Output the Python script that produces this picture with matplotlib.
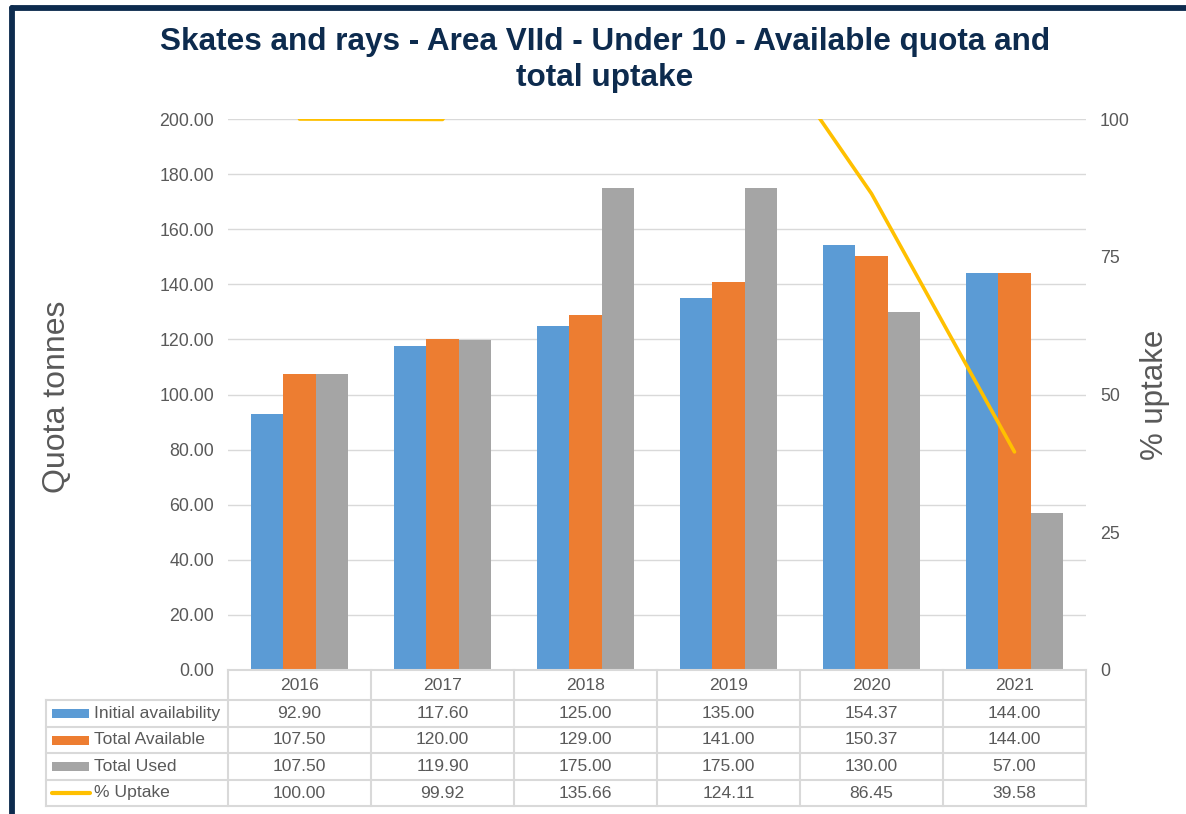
import matplotlib
matplotlib.use("Agg")
import matplotlib.pyplot as plt
import matplotlib.transforms as mtransforms
from matplotlib.lines import Line2D
from matplotlib.patches import Rectangle
import numpy as np

plt.rcParams['font.family'] = ['Liberation Sans', 'DejaVu Sans']

years = ["2016", "2017", "2018", "2019", "2020", "2021"]
initial_availability = [92.90, 117.60, 125.00, 135.00, 154.37, 144.00]
total_available = [107.50, 120.00, 129.00, 141.00, 150.37, 144.00]
total_used = [107.50, 119.90, 175.00, 175.00, 130.00, 57.00]
pct_uptake = [100.00, 99.92, 135.66, 124.11, 86.45, 39.58]

series_names = ["Initial availability", "Total Available", "Total Used", "% Uptake"]
colors = ["#5B9BD5", "#ED7D31", "#A5A5A5", "#FFC000"]
left_ticks = [0, 20, 40, 60, 80, 100, 120, 140, 160, 180, 200]
right_ticks = [0, 25, 50, 75, 100]

W, H = 1186, 814
fig = plt.figure(figsize=(W / 100, H / 100), dpi=100)
fig.patch.set_facecolor("white")

def fx(px):
    return px / W

def fy(py):
    return 1 - py / H

txt_c = "#595959"
ax_l, ax_r, ax_t, ax_b = 228, 1086, 119, 670
ax = fig.add_axes([fx(ax_l), fy(ax_b), fx(ax_r - ax_l), (ax_b - ax_t) / H])
ax2 = ax.twinx()

x = np.arange(len(years))
bw = 0.224
ax.bar(x - bw, initial_availability, bw, color=colors[0], zorder=3)
ax.bar(x, total_available, bw, color=colors[1], zorder=3)
ax.bar(x + bw, total_used, bw, color=colors[2], zorder=3)
ax.set_xlim(-0.5, len(years) - 0.5)
ax.set_ylim(0, 200)
ax.set_yticks(left_ticks)
ax.set_yticklabels([f"{v:.2f}" for v in left_ticks])
ax.grid(axis="y", color="#D9D9D9", linewidth=1.0, zorder=0)
ax.set_axisbelow(True)
ax.set_xticks([])
for s in ax.spines.values():
    s.set_visible(False)
ax.tick_params(axis="y", length=0, pad=10, labelsize=12.8, labelcolor=txt_c)

ax2.plot(x, pct_uptake, color=colors[3], linewidth=2.6, solid_capstyle="round")
ax2.set_ylim(0, 100)
ax2.set_yticks(right_ticks)
ax2.set_yticklabels([str(v) for v in right_ticks])
for s in ax2.spines.values():
    s.set_visible(False)
ax2.tick_params(axis="y", length=0, pad=10, labelsize=12.8, labelcolor=txt_c)
ax2.set_xticks([])

# Axis labels
fig.text(fx(57), fy(397), "Quota tonnes", rotation=90, ha="center", va="center",
         fontsize=23, color=txt_c)
fig.text(fx(1155), fy(395), "% uptake", rotation=90, ha="center", va="center",
         fontsize=22.5, color=txt_c)

# Title
title_c = "#0D2B4E"
fig.text(fx(605), fy(42), "Skates and rays - Area VIId - Under 10 - Available quota and",
         ha="center", va="center", fontsize=22.7, fontweight="bold", color=title_c)
fig.text(fx(605), fy(78), "total uptake",
         ha="center", va="center", fontsize=22.7, fontweight="bold", color=title_c)

# Data table
grid_c = "#D9D9D9"
tr = mtransforms.blended_transform_factory(ax.transData, fig.transFigure)
row_edges = [670, 700, 727, 753, 780, 806]
label_left = 46
for i, yy in enumerate(row_edges):
    x0 = ax_l if i == 0 else label_left
    fig.add_artist(Line2D([fx(x0), fx(ax_r)], [fy(yy), fy(yy)], color=grid_c, lw=1.5))
fig.add_artist(Line2D([fx(label_left), fx(label_left)], [fy(700), fy(806)], color=grid_c, lw=1.5))
for k in range(len(years) + 1):
    xp = ax_l + k * (ax_r - ax_l) / len(years)
    fig.add_artist(Line2D([fx(xp), fx(xp)], [fy(670), fy(806)], color=grid_c, lw=1.5))

for i, yr in enumerate(years):
    fig.text(i, fy((670 + 700) / 2), yr, transform=tr, ha="center", va="center",
             fontsize=12.6, color=txt_c)

table_rows = [initial_availability, total_available, total_used, pct_uptake]
for r, (name, vals) in enumerate(zip(series_names, table_rows)):
    yc = fy((row_edges[r + 1] + row_edges[r + 2]) / 2)
    if r < 3:
        fig.add_artist(Rectangle((fx(52), yc - 4.5 / H), fx(37), 9 / H,
                                 facecolor=colors[r], edgecolor="none"))
    else:
        fig.add_artist(Line2D([fx(52), fx(90)], [yc, yc], color=colors[3], lw=3,
                              solid_capstyle="round"))
    fig.text(fx(94), yc, name, ha="left", va="center", fontsize=12.6, color=txt_c)
    for i, v in enumerate(vals):
        fig.text(i, yc, f"{v:.2f}", transform=tr, ha="center", va="center",
                 fontsize=12.6, color=txt_c)

# Frame border (navy)
navy = "#0D2B4E"
fig.add_artist(Line2D([fx(12), fx(12)], [fy(8), 0], color=navy, lw=4.2, solid_capstyle="round"))
fig.add_artist(Line2D([fx(12), 1], [fy(8), fy(8)], color=navy, lw=4.2, solid_capstyle="round"))

fig.savefig("out.png", dpi=100)
